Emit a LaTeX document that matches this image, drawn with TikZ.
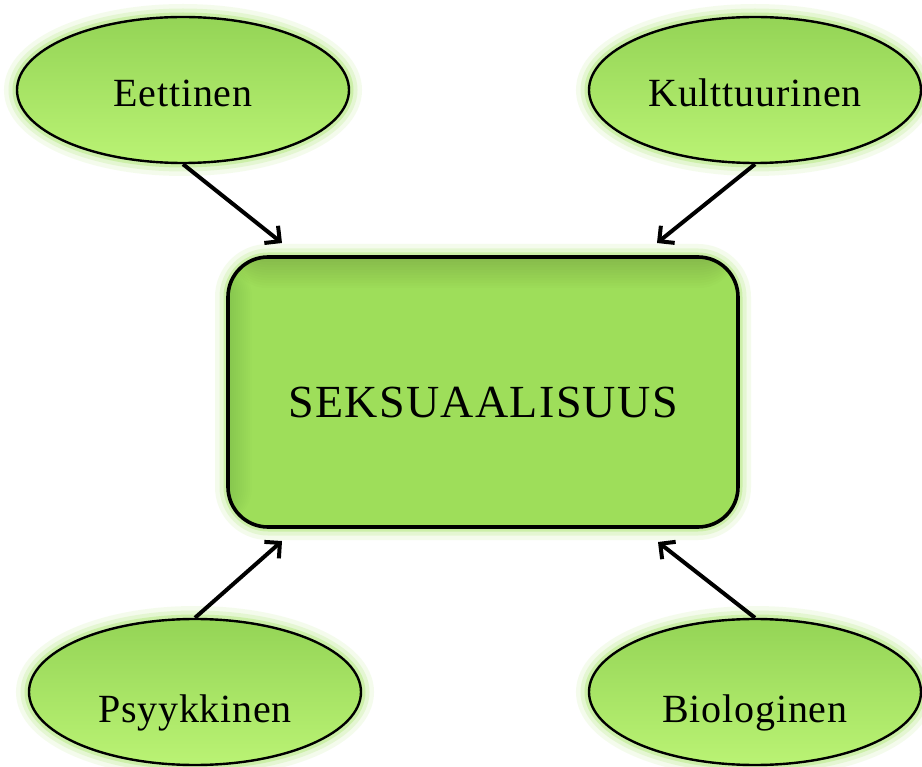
\documentclass[tikz,border=0pt]{standalone}
\usepackage{fontspec}
\setmainfont{Liberation Serif}
\newfontfamily\lblfont{Liberation Serif}[LetterSpace=2]
\newfontfamily\mainlblfont{Liberation Serif}[LetterSpace=3]
\usetikzlibrary{shapes.geometric,arrows.meta}
\definecolor{glowc}{RGB}{168,230,106}
\definecolor{ellTop}{RGB}{148,212,86}
\definecolor{ellBot}{RGB}{186,243,116}
\definecolor{boxFill}{RGB}{158,222,90}
\begin{document}
\begin{tikzpicture}[x=1pt,y=-1pt,
  glow/.style={
    preaction={draw=glowc,line width=26pt,opacity=0.12},
    preaction={draw=glowc,line width=17pt,opacity=0.20},
    preaction={draw=glowc,line width=9pt,opacity=0.40}},
  ell/.style={ellipse, glow, draw=black, line width=2.4pt,
    top color=ellTop, bottom color=ellBot,
    minimum width=332pt, minimum height=146pt, inner sep=0pt,
    font=\lblfont\fontsize{40}{44}\selectfont},
  ellTopRow/.style={ell, text height=36pt, text depth=2pt},
  ellBotRow/.style={ell, text height=62pt, text depth=2pt},
  mainbox/.style={rectangle, rounded corners=40pt, glow, draw=black, line width=3.6pt,
    fill=boxFill, minimum width=510pt, minimum height=270pt, inner sep=0pt,
    text height=54pt, text depth=2pt,
    font=\mainlblfont\fontsize{46}{50}\selectfont,
    path picture={
      \foreach \i in {1,...,12}{
        \fill[black, opacity=0.011]
          (path picture bounding box.north west) rectangle
          ([yshift=-\i*2.6pt]path picture bounding box.north east);
        \fill[black, opacity=0.006]
          (path picture bounding box.north west) rectangle
          ([xshift=\i*2pt]path picture bounding box.south west);
      }
    }},
  arr/.style={draw=black, line width=4pt, -{Straight Barb[length=11pt,width=22pt]}}
]
\useasboundingbox (0,0) rectangle (922,767);
\fill[white] (0,0) rectangle (922,767);

\node[mainbox] (sex) at (483,392) {SEKSUAALISUUS};

\node[ellTopRow] (eet) at (183,90) {Eettinen};
\node[ellTopRow] (kul) at (755,90) {Kulttuurinen};
\node[ellBotRow] (psy) at (195,692) {Psyykkinen};
\node[ellBotRow] (bio) at (755,692) {Biologinen};

\coordinate (tEet) at (282,243);
\coordinate (tKul) at (657,243);
\coordinate (tPsy) at (282,541);
\coordinate (tBio) at (658,542);

\draw[arr] (eet.south) -- (tEet);
\draw[arr] (kul.south) -- (tKul);
\draw[arr] (psy.north) -- (tPsy);
\draw[arr] (bio.north) -- (tBio);
\end{tikzpicture}
\end{document}
